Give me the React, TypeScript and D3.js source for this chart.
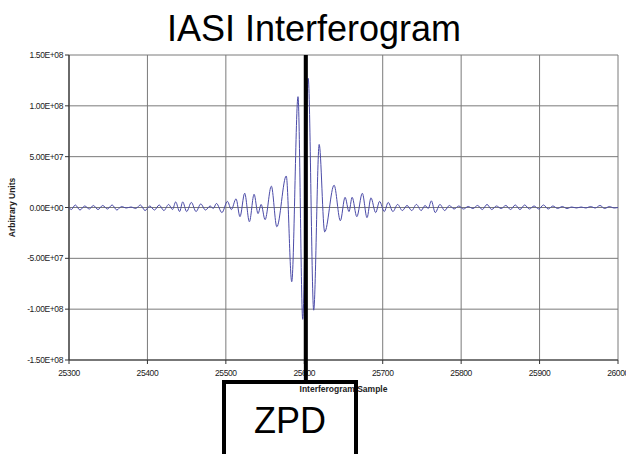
import React from "react";
import * as d3 from "d3";

const title = "IASI Interferogram";
const xLabel = "Interferogram Sample";
const yLabel = "Arbitrary Units";
const markerLabel = "ZPD";
const zpdSample = 25602;

const xTicks = [25300, 25400, 25500, 25600, 25700, 25800, 25900, 26000];
const yTicks = [150, 100, 50, 0, -50, -100, -150]; // in units of 1E+06
const yTickLabels = ["1.50E+08", "1.00E+08", "5.00E+07", "0.00E+00", "-5.00E+07", "-1.00E+08", "-1.50E+08"];

// Interferogram turning points: sample index, amplitude (×1E+06)
const samples = [
  25300, 25303, 25308, 25314, 25320, 25326, 25331, 25337, 25343, 25349,
  25355, 25361, 25367, 25373, 25379, 25385, 25391, 25397, 25403, 25409,
  25415, 25421, 25427, 25432, 25436, 25441, 25445, 25450, 25456, 25462,
  25468, 25474, 25480, 25484, 25488, 25495, 25502, 25507, 25513, 25518,
  25524, 25530, 25536, 25541, 25545, 25550, 25558, 25565, 25577, 25584,
  25592, 25598, 25605, 25612, 25619, 25626, 25638, 25646, 25652, 25657,
  25661, 25667, 25674, 25680, 25685, 25691, 25696, 25702, 25707, 25713,
  25719, 25725, 25731, 25737, 25743, 25749, 25754, 25758, 25762, 25767,
  25773, 25779, 25785, 25791, 25797, 25803, 25809, 25815, 25821, 25827,
  25833, 25839, 25845, 25851, 25857, 25863, 25869, 25875, 25881, 25887,
  25893, 25899, 25905, 25911, 25917, 25923, 25929, 25935, 25941, 25947,
  25953, 25959, 25965, 25971, 25977, 25983, 25989, 25995, 26000,
];
const amplitude = [
  0, -2, 2.5, -2.5, 1.5, -1.5, 2, -2, 2, -1.5,
  2.5, -2.5, 1, -0.5, 0.5, -1, 2.5, -3, 1.5, -2.5,
  2.5, -3, 3, -2, 5.5, -4, 5.5, -4, 5, -4,
  3.5, -2.5, 1.5, -1, 4, -5, 6, -2, 8.5, -9,
  14, -14, 13, -6, 3, -12, 21, -19, 31, -73,
  109, -110, 127, -101, 62, -24, 22, -13, 10, -4,
  10, -9, 14, -10, 9.5, -5, 6, -4, 5, -4,
  3, -3, 2, -3, 3, -3, 2, -1, 6.5, -5,
  3, -3, 2, -1.5, 1.5, -1.5, 1, -1, 2, -2,
  3, -2, 1.5, -1, 2, -2, 2.5, -2, 2.5, -1.5,
  1.5, -1.5, 2.5, -1.5, 1.5, -1, 1, -1, 0.5, -0.5,
  0.5, -0.5, 1, -0.5, 2, -1, 1, -0.5, 0,
];

const W = 626;
const H = 454;
const plot = { left: 69, right: 618, top: 55, bottom: 360 };

export default function App() {
  const x = d3.scaleLinear().domain([25300, 26000]).range([plot.left, plot.right]);
  const y = d3.scaleLinear().domain([-150, 150]).range([plot.bottom, plot.top]);
  const data = samples.map((s, i) => [s, amplitude[i]] as [number, number]);
  const line = d3
    .line<[number, number]>()
    .x((d) => x(d[0]))
    .y((d) => y(d[1]))
    .curve(d3.curveMonotoneX);
  const zx = x(zpdSample);
  const font = "Arial, 'Liberation Sans', sans-serif";

  return (
    <svg
      width={W}
      height={H}
      style={{ position: "absolute", left: 0, top: 0, background: "#fff" }}
      fontFamily={font}
    >
      <rect x={0} y={0} width={W} height={H} fill="#fff" />
      <text x={314} y={41} textAnchor="middle" fontSize={36} fill="#000">
        {title}
      </text>
      {/* grid */}
      {yTicks.map((t) => (
        <line key={"gy" + t} x1={plot.left} x2={plot.right} y1={y(t)} y2={y(t)} stroke="#7a7a7a" strokeWidth={1} />
      ))}
      {xTicks.map((t) => (
        <line key={"gx" + t} x1={x(t)} x2={x(t)} y1={plot.top} y2={plot.bottom} stroke="#7a7a7a" strokeWidth={1} />
      ))}
      {/* axes */}
      <line x1={plot.left} x2={plot.left} y1={plot.top} y2={plot.bottom} stroke="#333" strokeWidth={1.2} />
      <line x1={plot.left} x2={plot.right} y1={plot.bottom} y2={plot.bottom} stroke="#333" strokeWidth={1.2} />
      {yTicks.map((t, i) => (
        <g key={"yt" + t}>
          <line x1={plot.left - 4} x2={plot.left} y1={y(t)} y2={y(t)} stroke="#333" />
          <text x={plot.left - 6} y={y(t) + 3} textAnchor="end" fontSize={8.5} fill="#222" letterSpacing={-0.4}>
            {yTickLabels[i]}
          </text>
        </g>
      ))}
      {xTicks.map((t) => (
        <g key={"xt" + t}>
          <line x1={x(t)} x2={x(t)} y1={plot.bottom} y2={plot.bottom + 4} stroke="#333" />
          <text x={x(t)} y={plot.bottom + 16} textAnchor="middle" fontSize={8.5} fill="#222" letterSpacing={-0.4}>
            {t}
          </text>
        </g>
      ))}
      <text
        transform={`translate(15, ${(plot.top + plot.bottom) / 2}) rotate(-90)`}
        textAnchor="middle"
        fontSize={8.5}
        fontWeight="bold"
        fill="#222"
      >
        {yLabel}
      </text>
      <text x={(plot.left + plot.right) / 2} y={392} textAnchor="middle" fontSize={8.5} fontWeight="bold" fill="#222">
        {xLabel}
      </text>
      {/* signal */}
      <path d={line(data) ?? ""} fill="none" stroke="#4b4ba8" strokeWidth={1} />
      {/* ZPD marker */}
      <line x1={zx} x2={zx} y1={plot.top} y2={382} stroke="#000" strokeWidth={4} />
      <rect x={224} y={382} width={132} height={80} fill="none" stroke="#000" strokeWidth={4} />
      <text x={290} y={433} textAnchor="middle" fontSize={36} fill="#000">
        {markerLabel}
      </text>
    </svg>
  );
}
